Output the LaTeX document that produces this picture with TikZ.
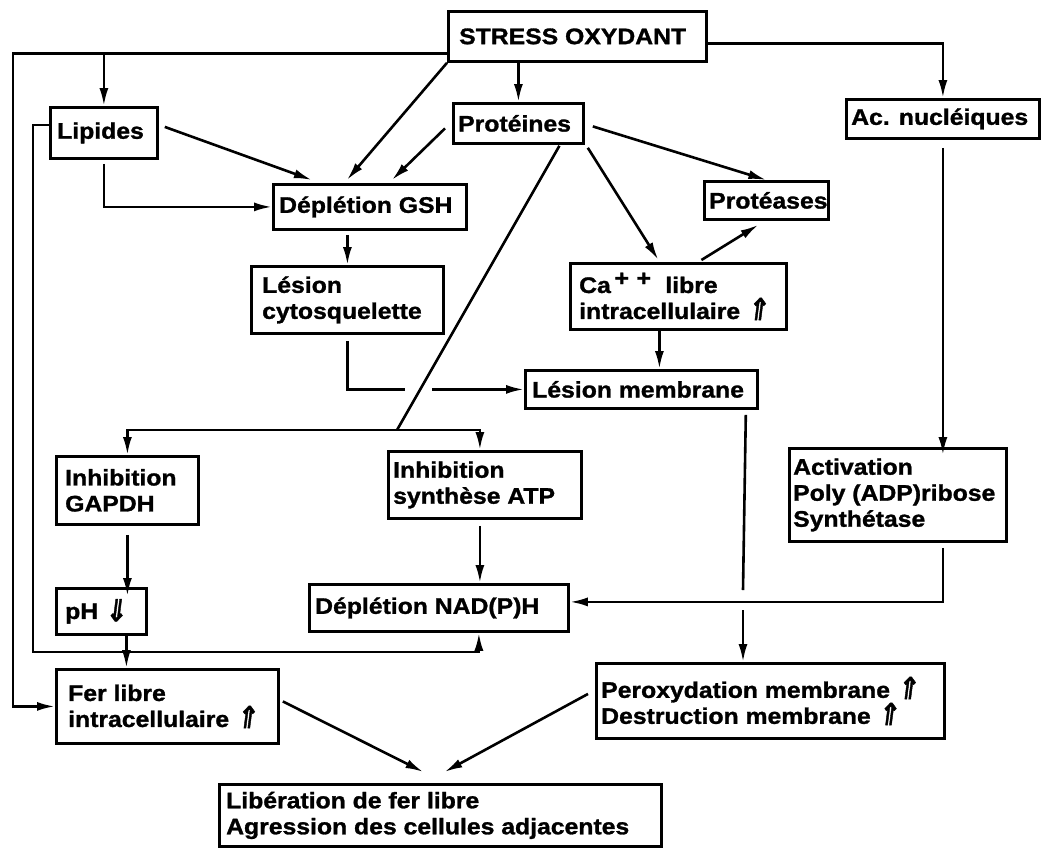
\documentclass[tikz,border=0pt]{standalone}
\usepackage{fontspec}
\setmainfont{Liberation Sans}[FakeStretch=1.10, BoldFeatures={FakeBold=1.3}]
\newfontfamily\symf{DejaVu Sans}[FakeSlant=0.15, FakeBold=1.5]
\usetikzlibrary{arrows.meta,calc}
\newcommand\myup{\raisebox{-0.1ex}{\scalebox{1.15}[1.35]{\symf ⇑}}}
\newcommand\mydn{\raisebox{-0.2ex}{\scalebox{1.15}[1.35]{\symf ⇓}}}
\newcommand\mkbox[7]{%
  \node[bx, minimum width=#4pt, minimum height=#5pt] (#1) at (#2,#3) {};
  \node[txt] (#1-t) at ([xshift=#6pt]#1.west) {#7};}
\begin{document}
\begin{tikzpicture}[x=1pt,y=-1pt,
  bx/.style={draw, line width=2.8pt, anchor=north west, inner sep=0pt},
  txt/.style={anchor=west, align=left, inner sep=0pt, font=\fontsize{22.5}{26}\selectfont\bfseries},
  ln/.style={line width=2.6pt},
  arr/.style={ln, -{Latex[length=18pt,width=9pt]}}]
\useasboundingbox (0,0) rectangle (1056,847);

\mkbox{stress}{447}{10}{258}{50}{12}{STRESS OXYDANT}
\mkbox{lip}{49}{106}{107}{51}{8}{Lipides}
\mkbox{prot}{452}{102}{130}{40}{6}{Protéines}
\mkbox{gsh}{272}{183}{193}{45}{7}{Déplétion GSH}
\mkbox{cyto}{250}{265}{192}{67}{12}{Lésion\\cytosquelette}
\mkbox{ptase}{703}{180}{124}{38}{6}{Protéases}
\mkbox{ca}{569}{262}{216}{66}{10}{Ca\,\raisebox{0.6ex}{+\,\,+}\,\, libre\\intracellulaire \myup}
\mkbox{ac}{845}{98}{193}{39}{6}{Ac. nucléiques}
\mkbox{mem}{524}{369}{232}{38}{8}{Lésion membrane}
\mkbox{gapdh}{55}{455}{142}{68}{10}{Inhibition\\GAPDH}
\mkbox{atp}{387}{450}{193}{67}{6}{Inhibition\\synthèse ATP}
\mkbox{act}{788}{447}{217}{93}{5}{Activation\\Poly (ADP)ribose\\Synthétase}
\mkbox{nad}{308}{583}{259}{47}{7}{Déplétion NAD(P)H}
\mkbox{ph}{55}{587}{90}{46}{10}{pH \mydn}
\mkbox{fer}{55}{668}{222}{74}{13}{Fer libre\\intracellulaire \myup}
\mkbox{perox}{595}{662}{348}{75}{6}{Peroxydation membrane \myup\\Destruction membrane \myup}
\mkbox{lib}{218}{783}{442}{62}{8}{Libération de fer libre\\Agression des cellules adjacentes}

\coordinate (xL) at (13,0);
\coordinate (xL2) at (33,0);
\coordinate (yB) at (0,652);
\coordinate (j) at (397,430);
\coordinate (sW) at ([yshift=-17pt]stress.west);
\coordinate (gapL) at ([xshift=-119pt]mem.west);
\coordinate (gapR) at ([xshift=-92pt]mem.west);
\coordinate (gapT) at (743,590);
\coordinate (gapB) at (743,610);

% stress oxydant outputs
\draw[arr] (sW) -- (sW -| xL) -- (fer.west -| xL) -- (fer.west);
\draw[arr] (sW -| lip.north) -- (lip.north);
\draw[arr] (stress.south -| prot.north) -- (prot.north);
\draw[arr] ([yshift=-7pt]stress.east) -| (ac.north);
\draw[arr] (stress.south west) -- ([xshift=-23pt,yshift=3pt]gsh.north);

% lipides
\draw[arr] ([xshift=6pt,yshift=6pt]lip.east) -- ([xshift=-58pt,yshift=3pt]gsh.north);
\draw[arr] ([yshift=-4pt]lip.south) |- (gsh.west);
\draw[arr] ([yshift=8pt]lip.west) -- ([yshift=8pt]lip.west -| xL2) -- (xL2 |- yB) -| ([xshift=40pt]nad.south);

% proteines
\draw[arr] ([xshift=-7pt,yshift=-5pt]prot.west) -- ([xshift=22pt,yshift=3pt]gsh.north);
\draw[arr] ([xshift=8pt,yshift=-3pt]prot.east) -- (ptase.north);
\draw[arr] ([xshift=3pt,yshift=-3pt]prot.south east) -- ([xshift=-20pt,yshift=2pt]ca.north);
\draw[ln] ([xshift=41pt,yshift=-1pt]prot.south) -- (j);
\draw[arr] (j) -| (gapdh.north);
\draw[arr] (j) -| ([xshift=-5pt]atp.north);

% GSH chain
\draw[arr] ([yshift=-4pt]gsh.south -| cyto.north) -- (cyto.north);
\draw[ln] ([yshift=-6pt]cyto.south) |- (gapL);
\draw[arr] (gapR) -- (mem.west);

% Ca
\draw[arr] ([xshift=23pt,yshift=2pt]ca.north) -- ([xshift=-8pt,yshift=-4pt]ptase.south);
\draw[arr] ([xshift=-19pt]ca.south) -- ([xshift=-19pt]ca.south |- mem.north);

% membrane
\draw[ln] ([xshift=-13pt,yshift=-5pt]mem.south east) -- (gapT);
\draw[arr] (gapB) -- (gapB |- perox.north);

% nucleic acids
\draw[arr] ([yshift=-8pt]ac.south) -- ([yshift=-8pt]ac.south |- act.north);
\draw[arr] ([yshift=-5pt]act.south -| ac.south) |- ([yshift=6pt]nad.east);

% inhibitions
\draw[arr] ([xshift=-5pt,yshift=-6pt]atp.south) -- ([xshift=-5pt]atp.south |- nad.north);
\draw[arr] ([yshift=-9pt]gapdh.south) -- ([yshift=-9pt]gapdh.south |- ph.north);
\draw[arr] ([xshift=25pt]ph.south) -- ([xshift=25pt]ph.south |- fer.north);

% final
\draw[arr] ([xshift=3pt,yshift=5pt]fer.east) -- ([xshift=-17pt,yshift=11pt]lib.north);
\draw[arr] ([xshift=-7pt,yshift=7pt]perox.west) -- ([xshift=4pt,yshift=11pt]lib.north);
\end{tikzpicture}
\end{document}
